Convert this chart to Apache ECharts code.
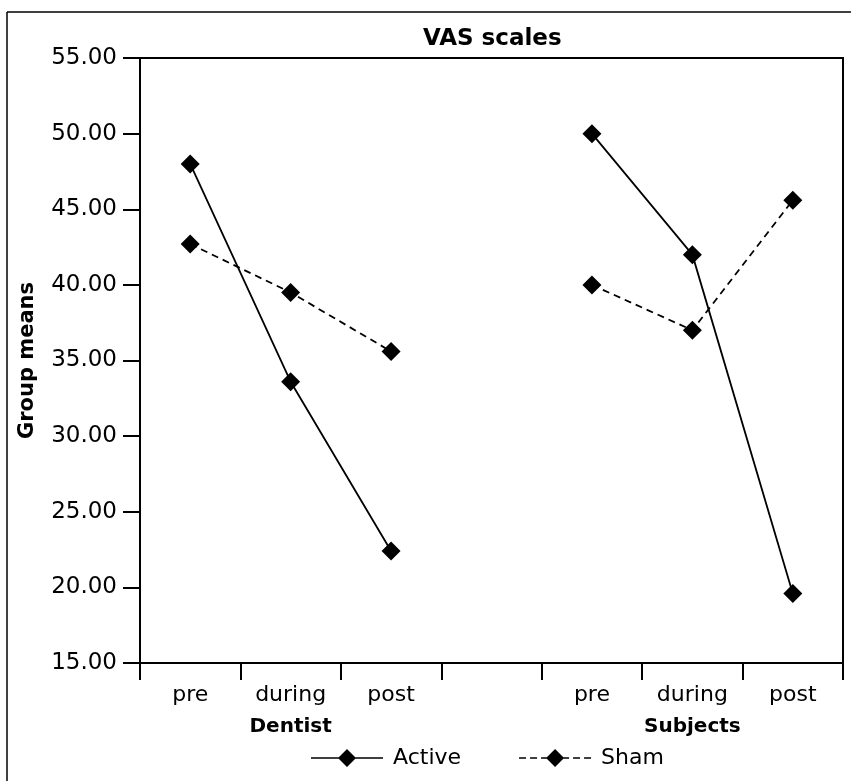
<!DOCTYPE html>
<html lang="en">
<head>
    <meta charset="UTF-8">
    <title>VAS scales</title>
    <script src="https://cdn.jsdelivr.net/npm/echarts@6/dist/echarts.min.js"></script>
    <style>
        html, body { margin: 0; padding: 0; background: #fff; }
        #main { width: 851px; height: 781px; }
    </style>
</head>
<body>
<div id="main"></div>
<script type="text/javascript">
    // categories: 3 time points per group, empty slot in between
    var timePoints = ['pre', 'during', 'post', '', 'pre', 'during', 'post'];
    var groupLabels = ['', 'Dentist', '', '', '', 'Subjects', ''];
    var seriesNames = ['Active', 'Sham'];
    // group means (null = gap between groups)
    var activeValues = [48.0, 33.6, 22.4, null, 50.0, 42.0, 19.6];
    var shamValues = [42.7, 39.5, 35.6, null, 40.0, 37.0, 45.6];

    var font = 'DejaVu Sans';
    // legend keys: line with a big diamond, drawn in a 72x18 box
    var diamond = 'M27,9 L36,0 L45,9 L36,18 Z';
    var solidKey = 'path://M0,8.2 H72 V9.8 H0 Z ' + diamond;
    var dashedKey = 'path://M0,8.2 H7 V9.8 H0 Z M11,8.2 H18 V9.8 H11 Z M22,8.2 H28 V9.8 H22 Z ' +
        diamond + ' M44,8.2 H50 V9.8 H44 Z M54,8.2 H61 V9.8 H54 Z M65,8.2 H72 V9.8 H65 Z';

    var myChart = echarts.init(document.getElementById('main'));

    var option = {
        backgroundColor: '#fff',
        animation: false,
        title: {
            text: 'VAS scales',
            left: 418,
            top: 23,
            textStyle: {color: '#000', fontFamily: font, fontWeight: 'bold', fontSize: 23}
        },
        legend: {
            data: [
                {name: seriesNames[0], icon: solidKey},
                {name: seriesNames[1], icon: dashedKey}
            ],
            left: 306,
            top: 742,
            itemWidth: 72,
            itemHeight: 18,
            itemGap: 58,
            textStyle: {color: '#000', fontFamily: font, fontSize: 22, padding: [0, 0, 0, 5]}
        },
        grid: {
            left: 140,
            right: 8,
            top: 58,
            bottom: 118,
            show: true,
            borderColor: '#000',
            borderWidth: 2
        },
        xAxis: [
            {
                type: 'category',
                data: timePoints,
                boundaryGap: true,
                axisLine: {lineStyle: {color: '#000', width: 2}},
                axisTick: {show: true, length: 17, inside: false, interval: 0, lineStyle: {width: 2, color: '#000'}},
                axisLabel: {interval: 0, margin: 21, color: '#000', fontFamily: font, fontSize: 22}
            },
            {
                type: 'category',
                data: groupLabels,
                position: 'bottom',
                boundaryGap: true,
                axisLine: {show: false},
                axisTick: {show: false},
                axisLabel: {interval: 0, margin: 54, color: '#000', fontFamily: font, fontSize: 20, fontWeight: 'bold'}
            }
        ],
        yAxis: {
            type: 'value',
            min: 15,
            max: 55,
            interval: 5,
            name: 'Group means',
            nameLocation: 'middle',
            nameRotate: 90,
            nameGap: 102,
            nameTextStyle: {color: '#000', fontFamily: font, fontSize: 21, fontWeight: 'bold'},
            splitLine: {show: false},
            axisLine: {show: true, lineStyle: {color: '#000', width: 2}},
            axisTick: {show: true, length: 17, lineStyle: {width: 2, color: '#000'}},
            axisLabel: {
                margin: 23,
                color: '#000',
                fontFamily: font,
                fontSize: 23,
                formatter: function (v) { return v.toFixed(2); }
            }
        },
        graphic: [
            // outer frame (top and left edges only)
            {type: 'line', shape: {x1: 7, y1: 12, x2: 851, y2: 12}, style: {stroke: '#000', lineWidth: 1.5}},
            {type: 'line', shape: {x1: 7, y1: 12, x2: 7, y2: 781}, style: {stroke: '#000', lineWidth: 1.5}}
        ],
        series: [
            {
                name: 'Active',
                type: 'line',
                data: activeValues,
                connectNulls: false,
                symbol: 'diamond',
                symbolSize: 19,
                itemStyle: {color: '#000'},
                lineStyle: {color: '#000', width: 1.8, type: 'solid'}
            },
            {
                name: 'Sham',
                type: 'line',
                data: shamValues,
                connectNulls: false,
                symbol: 'diamond',
                symbolSize: 19,
                itemStyle: {color: '#000'},
                lineStyle: {color: '#000', width: 1.8, type: [7, 5]}
            }
        ]
    };

    myChart.setOption(option);
</script>
</body>
</html>
